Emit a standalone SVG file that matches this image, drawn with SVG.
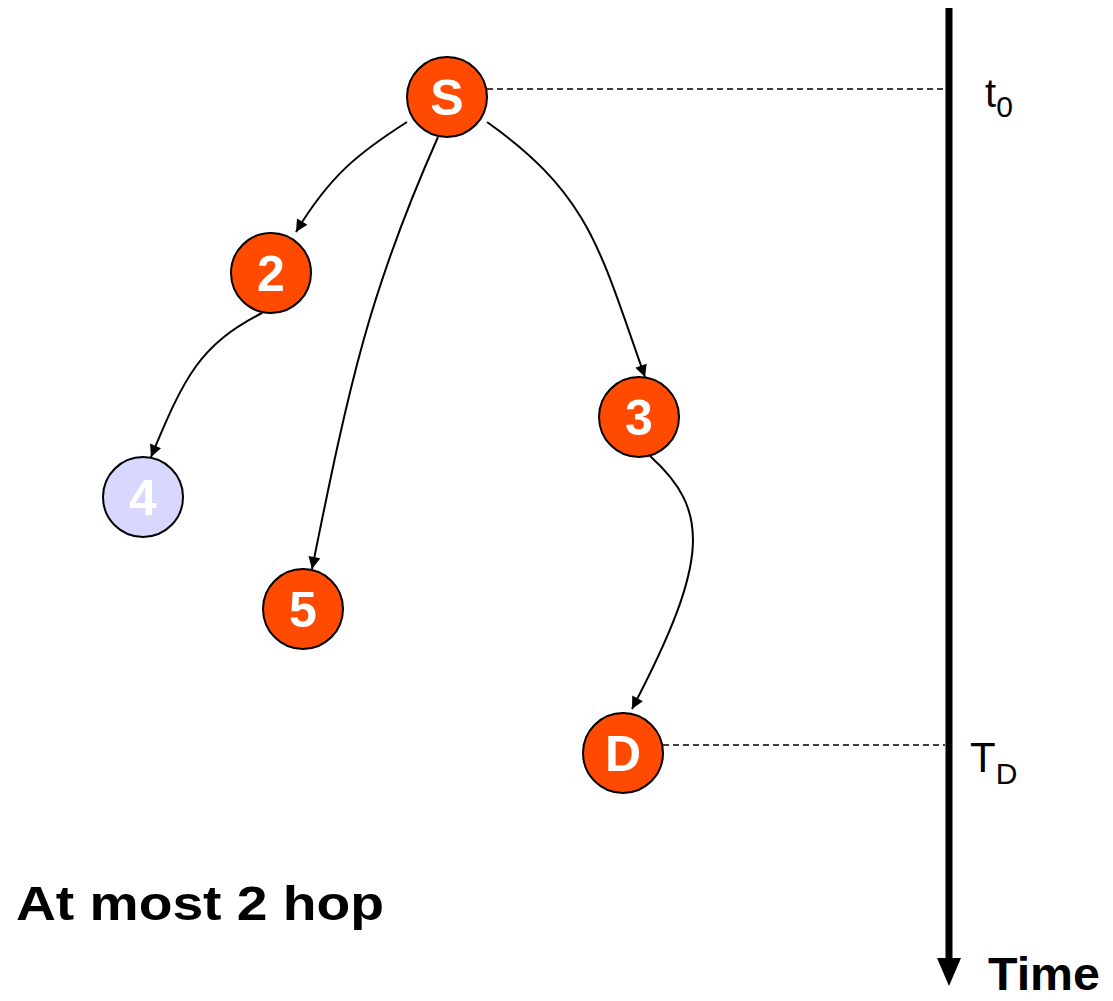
<svg xmlns="http://www.w3.org/2000/svg" width="1113" height="1001" viewBox="0 0 1113 1001">
<style>
.n{fill:#FF4A00;stroke:#000;stroke-width:2}
.lbl{font-family:"Comic Sans MS","Liberation Sans",sans-serif;font-weight:bold;font-size:50px;fill:#fff;text-anchor:middle}
.e{fill:none;stroke:#000;stroke-width:2;marker-end:url(#ah)}
.d{fill:none;stroke:#000;stroke-width:1.5;stroke-dasharray:6,4}
.t{font-family:"Comic Sans MS","Liberation Sans",sans-serif;fill:#000}
</style>
<defs>
<marker id="ah" viewBox="0 0 10 10" refX="10" refY="5" markerWidth="13" markerHeight="12" markerUnits="userSpaceOnUse" orient="auto"><path d="M0,0L10,5L0,10z" fill="#000"/></marker>
</defs>
<rect width="1113" height="1001" fill="#fff"/>
<g id="timeline">
<line x1="949" y1="8" x2="949" y2="962" stroke="#000" stroke-width="7"/>
<path d="M937,958L961,958L949,986z" fill="#000"/>
</g>
<g id="connectors">
<line class="d" x1="487" y1="89" x2="945" y2="89"/>
<line class="d" x1="663" y1="745" x2="945" y2="745"/>
<path class="e" d="M407,122C360,152 330,175 296,232"/>
<path class="e" d="M438,137C370,290 350,380 312,569"/>
<path class="e" d="M487,122C590,195 600,250 645,377"/>
<path class="e" d="M262,313C200,345 185,375 151,457"/>
<path class="e" d="M650,456C710,510 710,560 632,709"/>
</g>
<g id="node-S"><circle class="n" cx="447" cy="97" r="40"/><text class="lbl" x="447" y="115">S</text></g>
<g id="node-2"><circle class="n" cx="271" cy="273" r="40"/><text class="lbl" x="271" y="291">2</text></g>
<g id="node-3"><circle class="n" cx="639" cy="417" r="40"/><text class="lbl" x="639" y="435">3</text></g>
<g id="node-4"><circle cx="143" cy="497" r="40" fill="#D8D8FF" stroke="#000" stroke-width="2"/><text class="lbl" x="143" y="515">4</text></g>
<g id="node-5"><circle class="n" cx="303" cy="609" r="40"/><text class="lbl" x="303" y="627">5</text></g>
<g id="node-D"><circle class="n" cx="623" cy="753" r="40"/><text class="lbl" x="623" y="771">D</text></g>
<g id="labels">
<text class="t" x="985" y="107" font-size="40">t<tspan font-size="30" dy="10">0</tspan></text>
<text class="t" x="970" y="772" font-size="42">T<tspan font-size="30" dy="12">D</tspan></text>
<text class="t" x="988" y="990" font-size="46" font-weight="bold" textLength="112" lengthAdjust="spacingAndGlyphs">Time</text>
<text class="t" x="16" y="920" font-size="48" font-weight="bold" textLength="368" lengthAdjust="spacingAndGlyphs">At most 2 hop</text>
</g>
</svg>
